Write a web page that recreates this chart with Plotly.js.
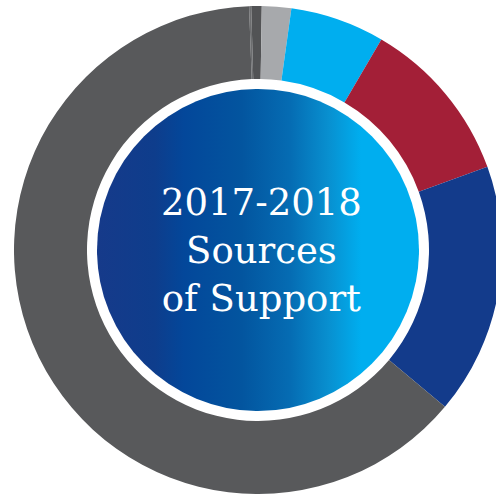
<!DOCTYPE html>
<html>
<head>
<meta charset="utf-8">
<script src="https://cdn.plot.ly/plotly-3.0.1.min.js"></script>
<style>
html, body { margin: 0; padding: 0; overflow: hidden; background: #ffffff; }
#chart { width: 520px; height: 520px; }
</style>
</head>
<body>
<div id="chart"></div>
<script>
// Data (shares of the full circle, %, clockwise from 12 o'clock)
var labels = ["Source 1", "Source 2", "Source 3", "Source 4", "Source 5", "Source 6", "Source 7"];
var values = [0.14, 0.69, 1.94, 6.25, 11.03, 16.64, 63.31];
var colors = ["#6d6e70", "#525355", "#a7a9ac", "#00aeef", "#a31f37", "#133b8b", "#58595b"];
var centerText = ["2017-2018", "Sources", "of Support"];

var W = 520, H = 520;
var cx = 258, cy = 250, R = 244, holeR = 171, innerR = 161;

var gradSvg = "<svg xmlns='http://www.w3.org/2000/svg' width='322' height='322' viewBox='0 0 322 322'>" +
  "<defs><linearGradient id='g' x1='0' y1='0' x2='1' y2='0'>" +
  "<stop offset='0' stop-color='#163a8a'/>" +
  "<stop offset='0.18' stop-color='#0e3d8c'/>" +
  "<stop offset='0.27' stop-color='#03479a'/>" +
  "<stop offset='0.45' stop-color='#03559f'/>" +
  "<stop offset='0.6' stop-color='#056cb3'/>" +
  "<stop offset='0.72' stop-color='#0890d0'/>" +
  "<stop offset='0.82' stop-color='#00aeef'/>" +
  "<stop offset='1' stop-color='#00aeef'/>" +
  "</linearGradient></defs>" +
  "<circle cx='161' cy='161' r='161' fill='url(#g)'/></svg>";
var gradUri = "data:image/svg+xml;base64," + btoa(gradSvg);

var trace = {
  type: "pie",
  labels: labels,
  values: values,
  sort: false,
  direction: "clockwise",
  rotation: -2.1,
  hole: holeR / R,
  textinfo: "none",
  hoverinfo: "label+percent",
  marker: { colors: colors, line: { width: 0 } },
  domain: { x: [(cx - R) / W, (cx + R) / W], y: [(H - cy - R) / H, (H - cy + R) / H] },
  showlegend: false
};

var layout = {
  width: W,
  height: H,
  margin: { l: 0, r: 0, t: 0, b: 0, pad: 0 },
  paper_bgcolor: "#ffffff",
  plot_bgcolor: "#ffffff",
  showlegend: false,
  images: [{
    source: gradUri,
    xref: "paper", yref: "paper",
    x: cx / W, y: 1 - cy / H,
    sizex: 2 * innerR / W, sizey: 2 * innerR / H,
    xanchor: "center", yanchor: "middle",
    sizing: "stretch",
    layer: "above"
  }],
  annotations: [{
    xref: "paper", yref: "paper",
    x: 261 / W, y: 1 - 250 / H,
    xanchor: "center", yanchor: "middle",
    showarrow: false,
    text: centerText.join("<br>"),
    align: "center",
    font: { family: "DejaVu Serif", size: 37, color: "#ffffff" }
  }]
};

Plotly.newPlot("chart", [trace], layout, { staticPlot: true, displayModeBar: false });
</script>
</body>
</html>
